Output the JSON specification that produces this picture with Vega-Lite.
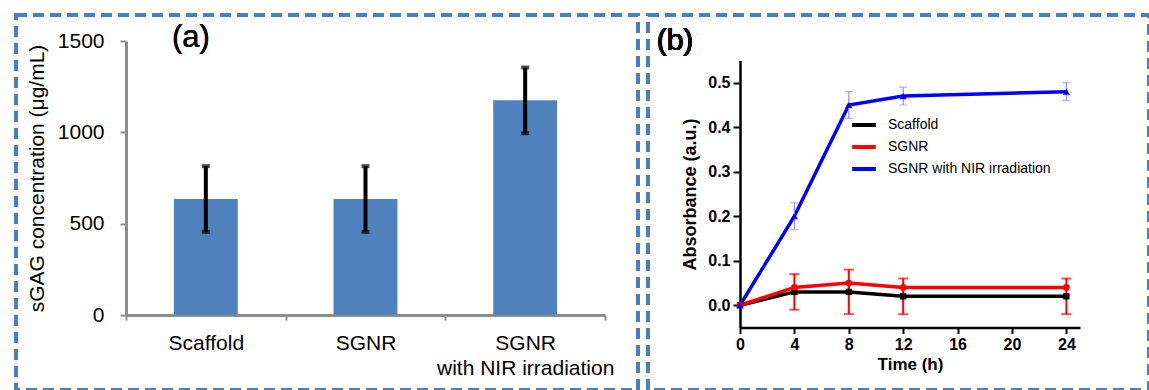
{
  "$schema": "https://vega.github.io/schema/vega-lite/v6.json",
  "padding": {"left": 14, "top": 13, "right": 4, "bottom": 0},
  "spacing": 6,
  "background": "#ffffff",
  "config": {
    "font": "Liberation Sans",
    "view": {"stroke": "#4a7ebf", "strokeWidth": 4, "strokeDash": [11, 6]},
    "axis": {"grid": false, "labelColor": "#000000", "titleColor": "#000000"}
  },
  "hconcat": [
    {
      "width": 622,
      "height": 375,
      "data": {"values": [
        {"group": "Scaffold", "mean": 635, "lo": 455, "hi": 815},
        {"group": "SGNR", "mean": 635, "lo": 455, "hi": 815},
        {"group": "SGNR with NIR irradiation", "mean": 1175, "lo": 995, "hi": 1355}
      ]},
      "encoding": {
        "x": {"field": "group", "type": "nominal", "sort": null,
          "scale": {"type": "band", "paddingInner": 0, "paddingOuter": 0, "range": [110, 589]},
          "axis": {"orient": "bottom", "offset": -75, "title": null, "tickBand": "extent", "labelAngle": 0,
            "labelExpr": "datum.value == 'SGNR with NIR irradiation' ? ['SGNR', 'with NIR irradiation'] : datum.value",
            "labelFontSize": 21, "labelLineHeight": 25, "labelPadding": 12, "tickSize": 5, "tickWidth": 2,
            "tickColor": "#8c8c8c", "domainColor": "#8c8c8c", "domainWidth": 3}}
      },
      "layer": [
        {"mark": {"type": "bar", "width": {"band": 0.4}, "color": "#4f81bd"},
         "encoding": {"y": {"field": "mean", "type": "quantitative",
           "scale": {"domain": [0, 1500], "range": [300, 26], "nice": false, "zero": false},
           "axis": {"orient": "left", "offset": -110, "values": [0, 500, 1000, 1500], "format": "d", "title": "sGAG concentration (μg/mL)",
             "titleFontSize": 21, "titleFontWeight": "normal", "titlePadding": 10, "labelFontSize": 21, "labelPadding": 16,
             "tickSize": 6, "tickWidth": 2, "tickColor": "#8c8c8c", "domainColor": "#8c8c8c", "domainWidth": 3}}}},
        {"mark": {"type": "rule", "color": "#000000", "strokeWidth": 4},
         "encoding": {"y": {"field": "lo", "type": "quantitative", "title": "sGAG concentration (μg/mL)"}, "y2": {"field": "hi"}}},
        {"mark": {"type": "tick", "orient": "horizontal", "color": "#000000", "size": 8, "thickness": 4},
         "encoding": {"y": {"field": "lo", "type": "quantitative", "title": "sGAG concentration (μg/mL)"}}},
        {"mark": {"type": "tick", "orient": "horizontal", "color": "#000000", "size": 8, "thickness": 4},
         "encoding": {"y": {"field": "hi", "type": "quantitative", "title": "sGAG concentration (μg/mL)"}}},
        {"mark": {"type": "text", "text": "(a)", "fontSize": 31, "color": "#000000", "baseline": "alphabetic", "align": "center", "dx": -15, "dy": 6},
         "encoding": {"x": {"datum": "Scaffold"}, "y": {"datum": 1500}}}
      ]
    },
    {
      "width": 501,
      "height": 375,
      "data": {"values": [
        {"series": "Scaffold", "t": 0, "v": 0},
        {"series": "Scaffold", "t": 4, "v": 0.03, "lo": 0.0, "hi": 0.06},
        {"series": "Scaffold", "t": 8, "v": 0.03, "lo": 0.0, "hi": 0.06},
        {"series": "Scaffold", "t": 12, "v": 0.02, "lo": -0.01, "hi": 0.05},
        {"series": "Scaffold", "t": 24, "v": 0.02, "lo": -0.01, "hi": 0.05},
        {"series": "SGNR", "t": 0, "v": 0},
        {"series": "SGNR", "t": 4, "v": 0.04, "lo": -0.01, "hi": 0.07},
        {"series": "SGNR", "t": 8, "v": 0.05, "lo": -0.02, "hi": 0.08},
        {"series": "SGNR", "t": 12, "v": 0.04, "lo": -0.02, "hi": 0.06},
        {"series": "SGNR", "t": 24, "v": 0.04, "lo": -0.02, "hi": 0.06},
        {"series": "SGNR with NIR irradiation", "t": 0, "v": 0},
        {"series": "SGNR with NIR irradiation", "t": 4, "v": 0.20, "lo": 0.17, "hi": 0.23},
        {"series": "SGNR with NIR irradiation", "t": 8, "v": 0.45, "lo": 0.42, "hi": 0.48},
        {"series": "SGNR with NIR irradiation", "t": 12, "v": 0.47, "lo": 0.45, "hi": 0.49},
        {"series": "SGNR with NIR irradiation", "t": 24, "v": 0.48, "lo": 0.46, "hi": 0.50}
      ]},
      "encoding": {
        "x": {"field": "t", "type": "quantitative",
          "scale": {"domain": [0, 25], "range": [92, 432], "nice": false, "zero": false},
          "axis": {"orient": "bottom", "offset": -62.5, "title": "Time (h)", "titleFontSize": 17, "titleFontWeight": "bold", "titlePadding": 4,
            "values": [0, 4, 8, 12, 16, 20, 24],
            "labelFontSize": 16, "labelFontWeight": "bold", "labelPadding": 3, "labelFlush": false, "labelOverlap": false,
            "tickSize": 6, "tickWidth": 2, "tickColor": "#000000", "domainColor": "#000000", "domainWidth": 2.5}}
      },
      "layer": [
        {"mark": {"type": "line", "strokeWidth": 3.5},
         "encoding": {
           "y": {"field": "v", "type": "quantitative",
             "scale": {"domain": [-0.05, 0.55], "range": [312.5, 45.5], "nice": false, "zero": false},
             "axis": {"orient": "left", "offset": -92, "title": "Absorbance (a.u.)", "titleFontSize": 18, "titleFontWeight": "bold", "titlePadding": 8,
               "values": [0, 0.1, 0.2, 0.3, 0.4, 0.5], "format": ".1f",
               "labelFontSize": 16, "labelFontWeight": "bold", "labelPadding": 3, "labelFlush": false, "labelOverlap": false,
               "tickSize": 7, "tickWidth": 2, "tickColor": "#000000", "domainColor": "#000000", "domainWidth": 2.5}},
           "color": {"field": "series", "type": "nominal", "sort": null,
             "scale": {"domain": ["Scaffold", "SGNR", "SGNR with NIR irradiation"], "range": ["#000000", "#ff0000", "#0000ff"]},
             "legend": {"title": null, "orient": "none", "legendX": 834, "legendY": 96, "symbolType": "stroke", "symbolStrokeWidth": 4,
               "symbolSize": 560, "labelFontSize": 14, "labelColor": "#000000", "labelLimit": 0, "rowPadding": -12, "labelOffset": 10, "padding": 0}}
         }},
        {"transform": [{"filter": "datum.series == 'Scaffold'"}],
         "mark": {"type": "rule", "color": "#555555", "strokeWidth": 1},
         "encoding": {"y": {"field": "lo", "type": "quantitative"}, "y2": {"field": "hi"}}},
        {"transform": [{"filter": "datum.series == 'SGNR'"}],
         "mark": {"type": "rule", "color": "#ff0000", "strokeWidth": 2},
         "encoding": {"y": {"field": "lo", "type": "quantitative"}, "y2": {"field": "hi"}}},
        {"transform": [{"filter": "datum.series == 'SGNR'"}],
         "mark": {"type": "tick", "orient": "horizontal", "color": "#ff0000", "size": 10, "thickness": 2},
         "encoding": {"y": {"field": "lo", "type": "quantitative"}}},
        {"transform": [{"filter": "datum.series == 'SGNR'"}],
         "mark": {"type": "tick", "orient": "horizontal", "color": "#ff0000", "size": 10, "thickness": 2},
         "encoding": {"y": {"field": "hi", "type": "quantitative"}}},
        {"transform": [{"filter": "datum.series == 'SGNR with NIR irradiation'"}],
         "mark": {"type": "rule", "color": "#8f8fff", "strokeWidth": 1.2},
         "encoding": {"y": {"field": "lo", "type": "quantitative"}, "y2": {"field": "hi"}}},
        {"transform": [{"filter": "datum.series == 'SGNR with NIR irradiation'"}],
         "mark": {"type": "tick", "orient": "horizontal", "color": "#8f8fff", "size": 8, "thickness": 1.2},
         "encoding": {"y": {"field": "lo", "type": "quantitative"}}},
        {"transform": [{"filter": "datum.series == 'SGNR with NIR irradiation'"}],
         "mark": {"type": "tick", "orient": "horizontal", "color": "#8f8fff", "size": 8, "thickness": 1.2},
         "encoding": {"y": {"field": "hi", "type": "quantitative"}}},
        {"transform": [{"filter": "datum.series == 'Scaffold'"}],
         "mark": {"type": "point", "filled": true, "size": 40, "opacity": 1, "shape": "square", "color": "#000000"},
         "encoding": {"y": {"field": "v", "type": "quantitative"}}},
        {"transform": [{"filter": "datum.series == 'SGNR'"}],
         "mark": {"type": "point", "filled": true, "size": 45, "opacity": 1, "shape": "circle", "color": "#ff0000"},
         "encoding": {"y": {"field": "v", "type": "quantitative"}}},
        {"transform": [{"filter": "datum.series == 'SGNR with NIR irradiation'"}],
         "mark": {"type": "point", "filled": true, "size": 50, "opacity": 1, "shape": "triangle-up", "color": "#0000ff"},
         "encoding": {"y": {"field": "v", "type": "quantitative"}}},
        {"mark": {"type": "text", "text": "(b)", "fontSize": 30, "color": "#000000", "baseline": "alphabetic", "align": "center", "dx": -65, "dy": -11},
         "encoding": {"x": {"datum": 0}, "y": {"datum": 0.55}}}
      ]
    }
  ]
}
